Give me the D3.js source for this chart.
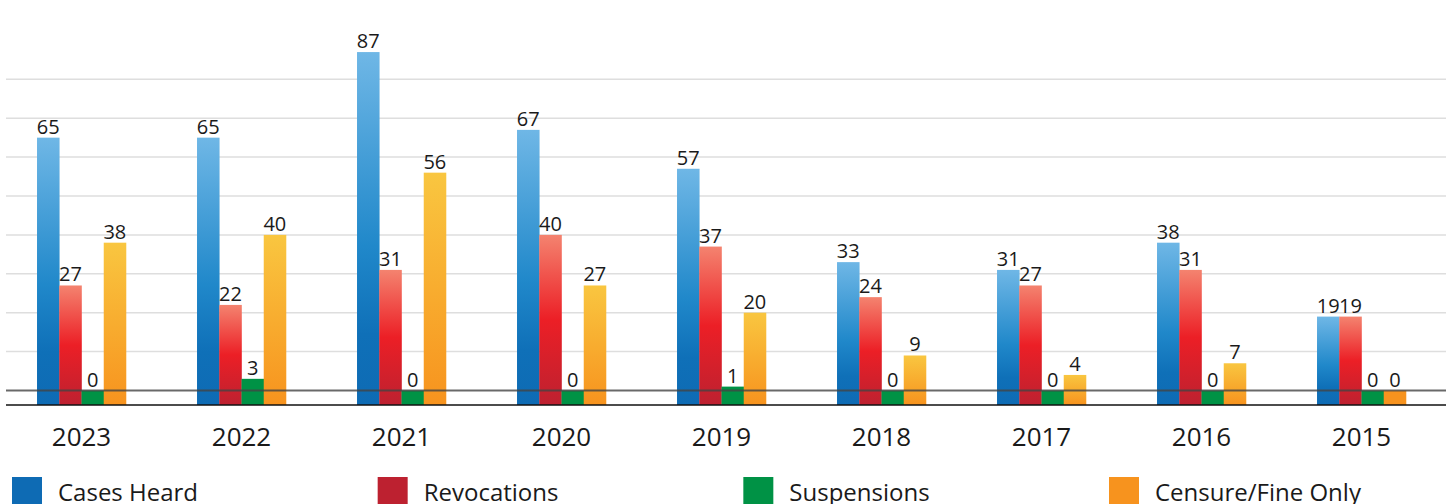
<!DOCTYPE html>
<html>
<head>
<meta charset="utf-8">
<script src="https://cdn.jsdelivr.net/npm/d3@7"></script>
<style>
  body { margin: 0; background: #fff; }
  svg { display: block; font-family: "Open Sans", "Noto Sans", sans-serif; }
</style>
</head>
<body>
<svg id="chart" width="1452" height="504"></svg>
<script>
const years = ["2023", "2022", "2021", "2020", "2019", "2018", "2017", "2016", "2015"];
const seriesNames = ["Cases Heard", "Revocations", "Suspensions", "Censure/Fine Only"];
const casesHeard = [65, 65, 87, 67, 57, 33, 31, 38, 19];
const revocations = [27, 22, 31, 40, 37, 24, 27, 31, 19];
const suspensions = [0, 3, 0, 0, 1, 0, 0, 0, 0];
const censureFine = [38, 40, 56, 27, 20, 9, 4, 7, 0];
const gridValues = [10, 20, 30, 40, 50, 60, 70, 80];

const seriesValues = [casesHeard, revocations, suspensions, censureFine];

const svg = d3.select("#chart");
const baseY = 405;   // bars run down to the black base line

// colour stops, top to bottom, per series
const palettes = [
  [["0%", "#6fb7e6"], ["55%", "#2088ca"], ["80%", "#0f70b8"], ["100%", "#0e6bb4"]],
  [["0%", "#f4836f"], ["50%", "#ec1f26"], ["100%", "#bd2130"]],
  [["0%", "#009245"], ["100%", "#009245"]],
  [["0%", "#f9c640"], ["100%", "#f7931e"]]
];

const defs = svg.append("defs");
palettes.forEach((stops, i) => {
  const g = defs.append("linearGradient")
    .attr("id", "grad" + i)
    .attr("x1", 0).attr("y1", 0).attr("x2", 0).attr("y2", 1);
  stops.forEach(s => g.append("stop").attr("offset", s[0]).attr("stop-color", s[1]));
});

const x0 = d3.scaleBand()
  .domain(years)
  .range([1.5, 1441.5])
  .paddingInner(0.444)
  .paddingOuter(0.222);

const x1 = d3.scaleBand()
  .domain(seriesNames)
  .range([0, x0.bandwidth()]);

const y = d3.scaleLinear()
  .domain([0, 80])
  .range([390.5, 79.3]);

// gridlines
svg.append("g")
  .selectAll("line")
  .data(gridValues)
  .enter()
  .append("line")
  .attr("x1", 6).attr("x2", 1446)
  .attr("y1", d => y(d)).attr("y2", d => y(d))
  .attr("stroke", "#dedede")
  .attr("stroke-width", 1.5);

const rows = years.map((yr, i) => ({
  year: yr,
  values: seriesNames.map((name, s) => ({ name, s, value: seriesValues[s][i] }))
}));

const groups = svg.append("g")
  .selectAll("g")
  .data(rows)
  .enter()
  .append("g")
  .attr("transform", d => `translate(${x0(d.year)},0)`);

groups.selectAll("rect")
  .data(d => d.values)
  .enter()
  .append("rect")
  .attr("x", d => x1(d.name))
  .attr("width", x1.bandwidth() + 0.3)
  .attr("y", d => y(d.value))
  .attr("height", d => baseY - y(d.value))
  .attr("fill", d => d.value > 0 ? `url(#grad${d.s})` : palettes[d.s][palettes[d.s].length - 1][1]);

groups.selectAll("text")
  .data(d => d.values)
  .enter()
  .append("text")
  .attr("x", d => x1(d.name) + x1.bandwidth() / 2)
  .attr("y", d => y(d.value) - 4)
  .attr("text-anchor", "middle")
  .attr("font-size", "20px")
  .attr("fill", "#1a1a1a")
  .text(d => d.value);

// zero line and base line
svg.append("line")
  .attr("x1", 6).attr("x2", 1446)
  .attr("y1", y(0)).attr("y2", y(0))
  .attr("stroke", "#444")
  .attr("stroke-opacity", 0.8)
  .attr("stroke-width", 2);

svg.append("line")
  .attr("x1", 6).attr("x2", 1446)
  .attr("y1", baseY).attr("y2", baseY)
  .attr("stroke", "#111")
  .attr("stroke-width", 1.5);

// year labels
svg.append("g")
  .selectAll("text")
  .data(years)
  .enter()
  .append("text")
  .attr("x", d => x0(d) + x0.bandwidth() / 2)
  .attr("y", 446)
  .attr("text-anchor", "middle")
  .attr("font-size", "26px")
  .attr("fill", "#1a1a1a")
  .text(d => d);

// legend (runs off the bottom edge, as in the source image)
const legendX = d3.scalePoint()
  .domain(seriesNames)
  .range([12, 1109]);

const legend = svg.append("g")
  .selectAll("g")
  .data(seriesNames)
  .enter()
  .append("g")
  .attr("transform", d => `translate(${legendX(d)},477)`);

legend.append("rect")
  .attr("width", 30)
  .attr("height", 30)
  .attr("fill", (d, i) => palettes[i][palettes[i].length - 1][1]);

legend.append("text")
  .attr("x", 46)
  .attr("y", 24)
  .attr("font-size", "24px")
  .attr("fill", "#1a1a1a")
  .text(d => d);
</script>
</body>
</html>
